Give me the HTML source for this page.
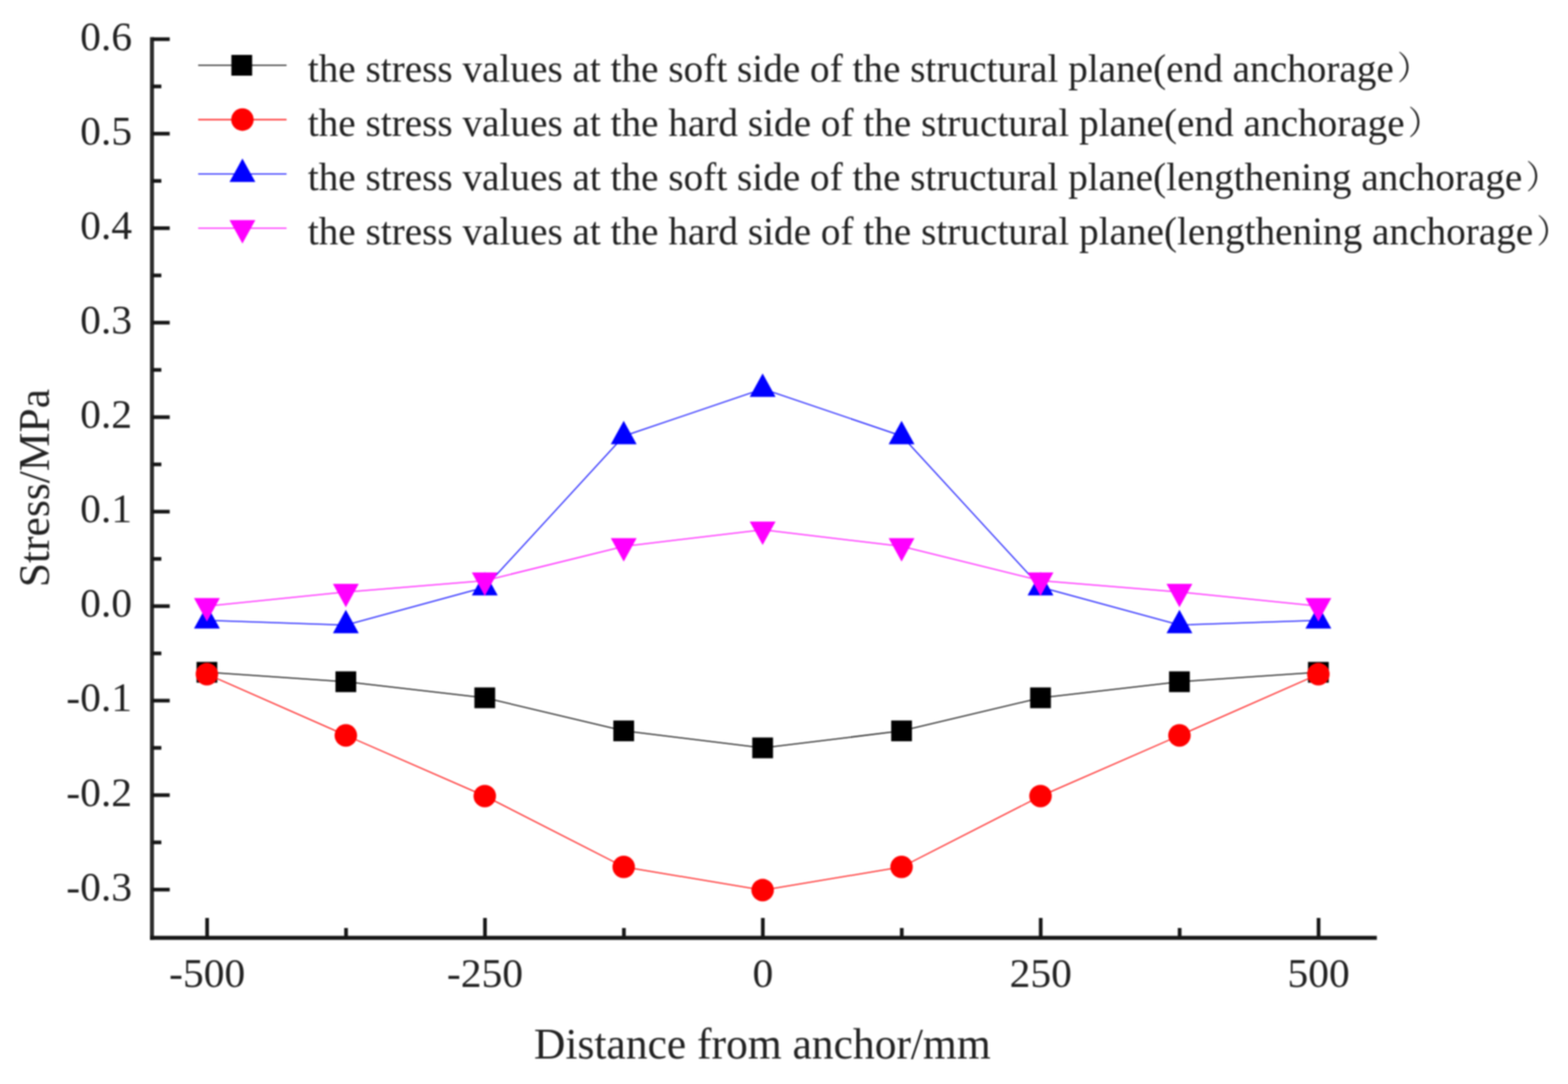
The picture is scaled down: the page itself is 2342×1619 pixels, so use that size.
<!DOCTYPE html>
<html lang="en"><head><meta charset="utf-8">
<title>Stress versus distance from anchor</title>
<style>
html,body{margin:0;padding:0;background:#ffffff;}
body{width:2342px;height:1619px;overflow:hidden;}
svg{display:block;filter:blur(0.9px);}
text{font-family:"Liberation Serif","Noto Serif CJK SC","Noto Sans CJK SC",serif;fill:#222222;}
.tick{font-size:62px;}
.title{font-size:65px;}
.leg{font-size:58.6px;}
.fw{font-size:49px;}
</style></head><body>
<svg width="2342" height="1619" viewBox="0 0 2342 1619">
<rect width="2342" height="1619" fill="#ffffff"/>
<g id="axes" fill="#161616">
<rect x="224" y="55.5" width="6" height="1348.2" fill="#2e2e2e"/>
<rect x="224" y="1397.7" width="1832.5" height="6"/>
<rect x="227" y="1325.94" width="26.5" height="5.5"/>
<rect x="227" y="1255.38" width="14" height="5.5"/>
<rect x="227" y="1184.81" width="26.5" height="5.5"/>
<rect x="227" y="1114.24" width="14" height="5.5"/>
<rect x="227" y="1043.68" width="26.5" height="5.5"/>
<rect x="227" y="973.12" width="14" height="5.5"/>
<rect x="227" y="902.55" width="26.5" height="5.5"/>
<rect x="227" y="831.98" width="14" height="5.5"/>
<rect x="227" y="761.42" width="26.5" height="5.5"/>
<rect x="227" y="690.85" width="14" height="5.5"/>
<rect x="227" y="620.29" width="26.5" height="5.5"/>
<rect x="227" y="549.72" width="14" height="5.5"/>
<rect x="227" y="479.16" width="26.5" height="5.5"/>
<rect x="227" y="408.59" width="14" height="5.5"/>
<rect x="227" y="338.03" width="26.5" height="5.5"/>
<rect x="227" y="267.46" width="14" height="5.5"/>
<rect x="227" y="196.9" width="26.5" height="5.5"/>
<rect x="227" y="126.33" width="14" height="5.5"/>
<rect x="227" y="55.77" width="26.5" height="5.5"/>
<rect x="306.6" y="1371" width="5.5" height="29.7"/>
<rect x="514.11" y="1386" width="5.5" height="14.7"/>
<rect x="721.63" y="1371" width="5.5" height="29.7"/>
<rect x="929.14" y="1386" width="5.5" height="14.7"/>
<rect x="1136.65" y="1371" width="5.5" height="29.7"/>
<rect x="1344.16" y="1386" width="5.5" height="14.7"/>
<rect x="1551.68" y="1371" width="5.5" height="29.7"/>
<rect x="1759.19" y="1386" width="5.5" height="14.7"/>
<rect x="1966.7" y="1371" width="5.5" height="29.7"/>
</g>
<g id="ylabels" class="tick" text-anchor="end">
<text x="197.2" y="1344.69">-0.3</text>
<text x="197.2" y="1203.56">-0.2</text>
<text x="197.2" y="1062.43">-0.1</text>
<text x="197.2" y="921.3">0.0</text>
<text x="197.2" y="780.17">0.1</text>
<text x="197.2" y="639.04">0.2</text>
<text x="197.2" y="497.91">0.3</text>
<text x="197.2" y="356.78">0.4</text>
<text x="197.2" y="215.65">0.5</text>
<text x="197.2" y="74.52">0.6</text>
</g>
<g id="xlabels" class="tick" text-anchor="middle">
<text x="309.35" y="1474">-500</text>
<text x="724.38" y="1474">-250</text>
<text x="1139.4" y="1474">0</text>
<text x="1554.43" y="1474">250</text>
<text x="1969.45" y="1474">500</text>
</g>
<text class="title" text-anchor="middle" x="1138.6" y="1580.6">Distance from anchor/mm</text>
<text class="title" text-anchor="middle" transform="translate(73.4 729) rotate(-90)">Stress/MPa</text>
<g id="series-sq">
<polyline points="309.35,1004.09 516.86,1018.2 724.38,1042.2 931.89,1091.59 1139.4,1116.99 1346.91,1091.59 1554.43,1042.2 1761.94,1018.2 1969.45,1004.09" fill="none" stroke="#000000" stroke-width="1.5"/>
<rect x="293.55" y="988.59" width="31" height="31" fill="#000000"/>
<rect x="501.06" y="1002.7" width="31" height="31" fill="#000000"/>
<rect x="708.58" y="1026.7" width="31" height="31" fill="#000000"/>
<rect x="916.09" y="1076.09" width="31" height="31" fill="#000000"/>
<rect x="1123.6" y="1101.49" width="31" height="31" fill="#000000"/>
<rect x="1331.11" y="1076.09" width="31" height="31" fill="#000000"/>
<rect x="1538.63" y="1026.7" width="31" height="31" fill="#000000"/>
<rect x="1746.14" y="1002.7" width="31" height="31" fill="#000000"/>
<rect x="1953.65" y="988.59" width="31" height="31" fill="#000000"/>
</g>
<g id="series-ci">
<polyline points="309.35,1006.91 516.86,1098.37 724.38,1188.97 931.89,1294.82 1139.4,1329.4 1346.91,1294.82 1554.43,1188.97 1761.94,1098.37 1969.45,1006.91" fill="none" stroke="#ff0000" stroke-width="1.5"/>
<circle cx="309.05" cy="1006.91" r="16.8" fill="#ff0000"/>
<circle cx="516.56" cy="1098.37" r="16.8" fill="#ff0000"/>
<circle cx="724.08" cy="1188.97" r="16.8" fill="#ff0000"/>
<circle cx="931.59" cy="1294.82" r="16.8" fill="#ff0000"/>
<circle cx="1139.1" cy="1329.4" r="16.8" fill="#ff0000"/>
<circle cx="1346.61" cy="1294.82" r="16.8" fill="#ff0000"/>
<circle cx="1554.13" cy="1188.97" r="16.8" fill="#ff0000"/>
<circle cx="1761.64" cy="1098.37" r="16.8" fill="#ff0000"/>
<circle cx="1969.15" cy="1006.91" r="16.8" fill="#ff0000"/>
</g>
<g id="series-up">
<polyline points="309.35,926.47 516.86,933.53 724.38,877.07 931.89,651.27 1139.4,580.7 1346.91,651.27 1554.43,877.07 1761.94,933.53 1969.45,926.47" fill="none" stroke="#0000ff" stroke-width="1.5"/>
<polygon points="309.05,903.64 289.75,938.64 328.35,938.64" fill="#0000ff"/>
<polygon points="516.56,910.69 497.26,945.69 535.86,945.69" fill="#0000ff"/>
<polygon points="724.08,854.24 704.78,889.24 743.38,889.24" fill="#0000ff"/>
<polygon points="931.59,628.43 912.29,663.43 950.89,663.43" fill="#0000ff"/>
<polygon points="1139.1,557.87 1119.8,592.87 1158.4,592.87" fill="#0000ff"/>
<polygon points="1346.61,628.43 1327.31,663.43 1365.91,663.43" fill="#0000ff"/>
<polygon points="1554.13,854.24 1534.83,889.24 1573.43,889.24" fill="#0000ff"/>
<polygon points="1761.64,910.69 1742.34,945.69 1780.94,945.69" fill="#0000ff"/>
<polygon points="1969.15,903.64 1949.85,938.64 1988.45,938.64" fill="#0000ff"/>
</g>
<g id="series-dn">
<polyline points="309.35,905.3 516.86,884.13 724.38,867.19 931.89,815.96 1139.4,791.27 1346.91,815.96 1554.43,867.19 1761.94,884.13 1969.45,905.3" fill="none" stroke="#ff00ff" stroke-width="1.5"/>
<polygon points="309.05,928.13 289.75,893.13 328.35,893.13" fill="#ff00ff"/>
<polygon points="516.56,906.96 497.26,871.96 535.86,871.96" fill="#ff00ff"/>
<polygon points="724.08,890.03 704.78,855.03 743.38,855.03" fill="#ff00ff"/>
<polygon points="931.59,838.8 912.29,803.8 950.89,803.8" fill="#ff00ff"/>
<polygon points="1139.1,814.1 1119.8,779.1 1158.4,779.1" fill="#ff00ff"/>
<polygon points="1346.61,838.8 1327.31,803.8 1365.91,803.8" fill="#ff00ff"/>
<polygon points="1554.13,890.03 1534.83,855.03 1573.43,855.03" fill="#ff00ff"/>
<polygon points="1761.64,906.96 1742.34,871.96 1780.94,871.96" fill="#ff00ff"/>
<polygon points="1969.15,928.13 1949.85,893.13 1988.45,893.13" fill="#ff00ff"/>
</g>
<g id="legend">
<line x1="296" y1="97.5" x2="428" y2="97.5" stroke="#000000" stroke-width="1.6"/>
<rect x="345.6" y="82" width="31" height="31" fill="#000000"/>
<text class="leg" x="459.7" y="121.7">the stress values at the soft side of the structural plane(end anchorage<tspan class="fw" dx="5" dy="-2.3">）</tspan></text>
<line x1="296" y1="178.6" x2="428" y2="178.6" stroke="#ff0000" stroke-width="1.6"/>
<circle cx="362.1" cy="178.6" r="16.8" fill="#ff0000"/>
<text class="leg" x="459.7" y="202.8">the stress values at the hard side of the structural plane(end anchorage<tspan class="fw" dx="5" dy="-2.3">）</tspan></text>
<line x1="296" y1="259.7" x2="428" y2="259.7" stroke="#0000ff" stroke-width="1.6"/>
<polygon points="362.1,236.87 342.8,271.87 381.4,271.87" fill="#0000ff"/>
<text class="leg" x="459.7" y="283.9">the stress values at the soft side of the structural plane(lengthening anchorage<tspan class="fw" dx="5" dy="-2.3">）</tspan></text>
<line x1="296" y1="340.8" x2="428" y2="340.8" stroke="#ff00ff" stroke-width="1.6"/>
<polygon points="362.1,363.63 342.8,328.63 381.4,328.63" fill="#ff00ff"/>
<text class="leg" x="459.7" y="365">the stress values at the hard side of the structural plane(lengthening anchorage<tspan class="fw" dx="5" dy="-2.3">）</tspan></text>
</g>
</svg>
</body></html>
